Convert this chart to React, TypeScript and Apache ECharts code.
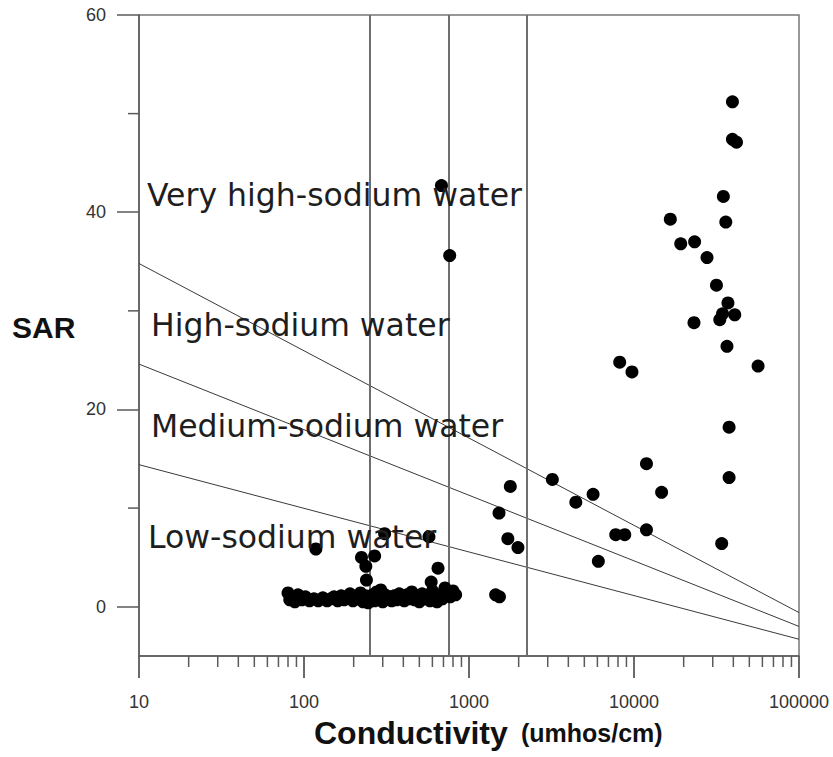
import React, { useEffect, useRef } from "react";
import * as echarts from "echarts";

// ---- data ----
const samplePoints: [number, number][] = [
  [39500, 51.2], [39500, 47.4], [41800, 47.1], [34800, 41.6], [16600, 39.3],
  [36000, 39.0], [19200, 36.8], [23300, 37.0], [27700, 35.4], [31600, 32.6],
  [37100, 30.8], [34400, 29.7], [40800, 29.6], [33100, 29.1], [23100, 28.8],
  [36600, 26.4], [8190, 24.8], [9720, 23.8], [56500, 24.4],
  [37700, 18.2], [11900, 14.5], [37700, 13.1], [3200, 12.9], [1780, 12.2],
  [14700, 11.6], [5650, 11.4], [4440, 10.6], [1520, 9.5], [11900, 7.8],
  [7750, 7.3], [8790, 7.3], [1720, 6.9], [1980, 6.0], [34000, 6.4],
  [6080, 4.6], [1450, 1.2], [1530, 1.0],
  [681, 42.7], [764, 35.6],
  [118, 5.85], [308, 7.4], [572, 7.1], [223, 5.0], [268, 5.15], [237, 4.1],
  [649, 3.9], [239, 2.7], [590, 2.5],
  [80, 1.4], [82, 0.7], [85, 1.0], [88, 0.5], [92, 1.2], [97, 0.7], [102, 1.0],
  [108, 0.6], [115, 0.8], [122, 0.6], [130, 0.9], [138, 0.6], [145, 0.8],
  [152, 1.0], [160, 0.6], [168, 1.1], [175, 0.7], [182, 0.9], [190, 1.3],
  [198, 0.6], [205, 1.0], [212, 0.8], [220, 1.4], [228, 0.5], [236, 1.1],
  [245, 0.4], [252, 0.8], [260, 1.2], [268, 0.6], [276, 1.5], [284, 0.9],
  [292, 1.7], [300, 0.5], [310, 1.2], [320, 0.8], [330, 1.0], [340, 0.6],
  [352, 1.1], [365, 0.7], [378, 1.3], [390, 0.9], [405, 0.6], [420, 1.2],
  [435, 0.8], [450, 1.5], [468, 0.7], [485, 1.1], [500, 0.5], [520, 1.3],
  [540, 0.8], [560, 1.0], [580, 0.6], [600, 1.6], [620, 1.0], [640, 0.5],
  [665, 1.2], [690, 0.8], [715, 1.9], [740, 1.4], [770, 1.0], [800, 1.6], [830, 1.2],
];

const boundaryS4: [number, number][] = [[10, 34.8], [100000, -0.6]];
const boundaryS3: [number, number][] = [[10, 24.6], [100000, -2.0]];
const boundaryS2: [number, number][] = [[10, 14.4], [100000, -3.3]];

const salinityLimits = [250, 750, 2250];

const xMajorTicks = [10, 100, 1000, 10000, 100000];
const xMinorMultipliers = [2, 3, 4, 5, 6, 7, 8, 9];
const xDecades = [10, 100, 1000, 10000];
const yMajorTicks = [0, 20, 40, 60];
const yMinorTicks = [10, 30, 50];

const zoneLabels = [
  { text: "Very high-sodium water", x: 147, y: 197 },
  { text: "High-sodium water", x: 151, y: 327 },
  { text: "Medium-sodium water", x: 151, y: 428 },
  { text: "Low-sodium water", x: 148, y: 539 },
];

const xMinorTicks: number[] = [];
xDecades.forEach((d) => xMinorMultipliers.forEach((m) => xMinorTicks.push(d * m)));

export default function App() {
  const ref = useRef<HTMLDivElement>(null);
  useEffect(() => {
    if (!ref.current) return;
    const chart = echarts.init(ref.current, undefined, { renderer: "svg" });
    const axisColor = "#5a5a5a";
    const lineSeries = (data: [number, number][]) => ({
      type: "line",
      data,
      showSymbol: false,
      symbol: "none",
      silent: true,
      lineStyle: { color: "#3a3a3a", width: 1 },
      z: 3,
    });
    const xTickSeries = (values: number[], len: number, color: string, w: number) => ({
      type: "custom",
      silent: true,
      clip: false,
      data: values.map((v) => [v, -5]),
      renderItem: (_p: any, api: any) => {
        const pt = api.coord([api.value(0), -5]);
        return {
          type: "line",
          shape: { x1: pt[0], y1: pt[1], x2: pt[0], y2: pt[1] + len },
          style: { stroke: color, lineWidth: w },
        };
      },
      z: 4,
    });
    chart.setOption({
      animation: false,
      backgroundColor: "#ffffff",
      grid: {
        left: 139,
        right: 34,
        top: 15,
        bottom: 101,
        show: true,
        borderColor: "#777777",
        borderWidth: 1.5,
      },
      xAxis: {
        type: "log",
        logBase: 10,
        min: 10,
        max: 100000,
        axisLine: { show: true, onZero: false, lineStyle: { color: axisColor, width: 1.5 } },
        axisTick: { show: false },
        axisLabel: {
          customValues: xMajorTicks,
          margin: 37,
          fontSize: 18,
          color: "#333333",
          fontFamily: "Liberation Sans, Arial, sans-serif",
          formatter: (v: number) => String(Math.round(v)),
        },
        splitLine: { show: false },
      },
      yAxis: {
        type: "value",
        min: -5,
        max: 60,
        axisLine: { show: true, onZero: false, lineStyle: { color: axisColor, width: 1.5 } },
        axisTick: {
          show: true,
          inside: false,
          length: 22,
          customValues: yMajorTicks,
          lineStyle: { color: axisColor, width: 1.5 },
        },
        axisLabel: {
          customValues: yMajorTicks,
          margin: 33,
          fontSize: 18,
          color: "#333333",
          fontFamily: "Liberation Sans, Arial, sans-serif",
        },
        splitLine: { show: false },
      },
      graphic: [
        ...zoneLabels.map((l) => ({
          type: "text",
          left: l.x,
          top: l.y - 18,
          z: 10,
          style: {
            text: l.text,
            fill: "#1e1e1e",
            font: "31.5px 'DejaVu Sans', sans-serif",
          },
        })),
        {
          type: "text",
          left: 12,
          top: 312,
          style: { text: "SAR", fill: "#111111", font: "bold 30px 'Liberation Sans', Arial, sans-serif" },
        },
        {
          type: "text",
          left: 314,
          top: 717,
          style: { text: "Conductivity", fill: "#111111", font: "bold 32px 'Liberation Sans', Arial, sans-serif" },
        },
        {
          type: "text",
          left: 521,
          top: 720,
          style: { text: "(umhos/cm)", fill: "#111111", font: "bold 25px 'Liberation Sans', Arial, sans-serif" },
        },
      ],
      series: [
        {
          type: "line",
          data: [],
          silent: true,
          markLine: {
            silent: true,
            symbol: ["none", "none"],
            label: { show: false },
            lineStyle: { color: "#6e6e6e", width: 2, type: "solid" },
            data: salinityLimits.map((v) => ({ xAxis: v })),
          },
          z: 2,
        },
        lineSeries(boundaryS4),
        lineSeries(boundaryS3),
        lineSeries(boundaryS2),
        xTickSeries(xMinorTicks, 11, axisColor, 1.5),
        xTickSeries(xMajorTicks, 22, axisColor, 1.8),
        {
          type: "custom",
          silent: true,
          clip: false,
          data: yMinorTicks.map((v) => [10, v]),
          renderItem: (_p: any, api: any) => {
            const pt = api.coord([10, api.value(1)]);
            return {
              type: "line",
              shape: { x1: pt[0] - 11, y1: pt[1], x2: pt[0], y2: pt[1] },
              style: { stroke: axisColor, lineWidth: 1.5 },
            };
          },
          z: 4,
        },
        {
          type: "scatter",
          data: samplePoints,
          symbol: "circle",
          symbolSize: 13,
          itemStyle: { color: "#000000", opacity: 1 },
          z: 6,
        },
      ],
    });
    return () => chart.dispose();
  }, []);
  return <div ref={ref} style={{ width: 833, height: 757, position: "absolute", left: 0, top: 0 }} />;
}
